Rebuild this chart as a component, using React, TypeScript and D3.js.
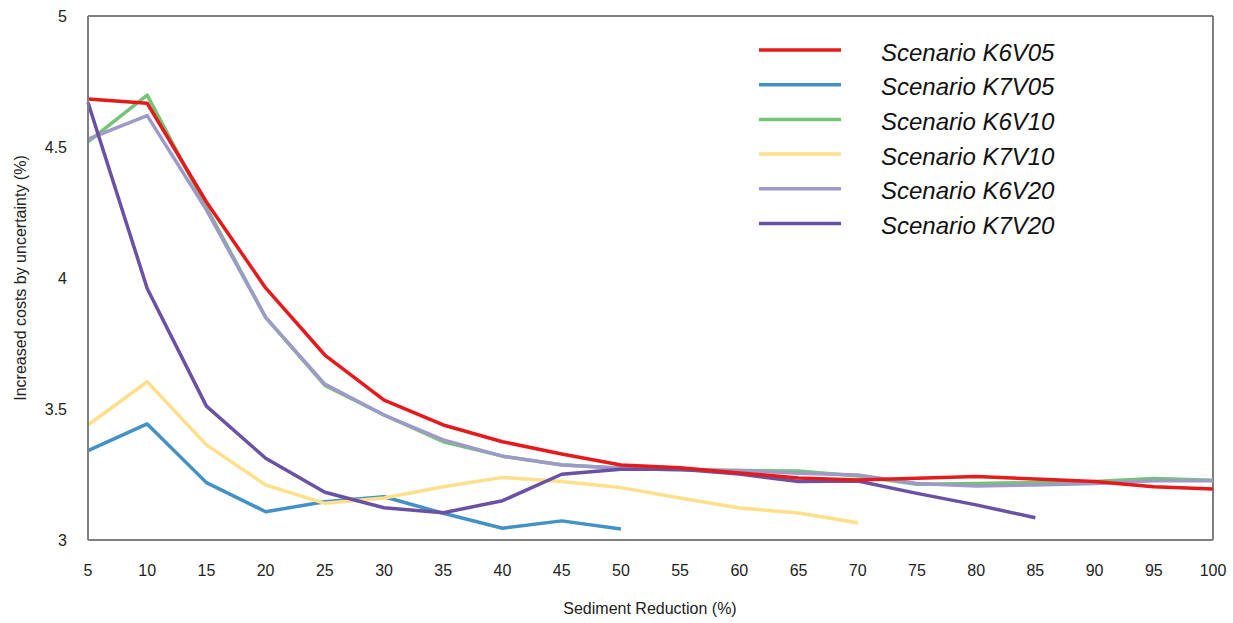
import React from 'react';
import * as d3 from 'd3';

// sediment reduction levels (%)
const reduction = [5, 10, 15, 20, 25, 30, 35, 40, 45, 50, 55, 60, 65, 70, 75, 80, 85, 90, 95, 100];

const k6v05 = [4.683, 4.667, 4.29, 3.962, 3.706, 3.534, 3.439, 3.375, 3.328, 3.286, 3.276, 3.256, 3.237, 3.229, 3.236, 3.242, 3.233, 3.223, 3.203, 3.195];
const k7v05 = [3.341, 3.443, 3.219, 3.108, 3.146, 3.165, 3.102, 3.045, 3.073, 3.042];
const k6v10 = [4.52, 4.698, 4.27, 3.85, 3.59, 3.477, 3.375, 3.32, 3.287, 3.274, 3.268, 3.265, 3.263, 3.244, 3.213, 3.216, 3.219, 3.223, 3.235, 3.228];
const k7v10 = [3.439, 3.604, 3.363, 3.21, 3.14, 3.16, 3.203, 3.239, 3.223, 3.2, 3.16, 3.122, 3.103, 3.066];
const k6v20 = [4.53, 4.62, 4.26, 3.85, 3.595, 3.477, 3.382, 3.32, 3.286, 3.274, 3.267, 3.265, 3.255, 3.248, 3.216, 3.206, 3.21, 3.216, 3.226, 3.226];
const k7v20 = [4.67, 3.96, 3.511, 3.312, 3.182, 3.123, 3.104, 3.15, 3.251, 3.27, 3.27, 3.252, 3.223, 3.225, 3.178, 3.134, 3.085];

const seriesNames = ['Scenario K6V05', 'Scenario K7V05', 'Scenario K6V10', 'Scenario K7V10', 'Scenario K6V20', 'Scenario K7V20'];
const seriesValues = [k6v05, k7v05, k6v10, k7v10, k6v20, k7v20];
const seriesColors = ['#e41a1c', '#4292c6', '#74c476', '#fedf8a', '#9e9ac8', '#6a51a3'];
// order the lines are painted in (last on top)
const drawOrder = [1, 3, 2, 4, 5, 0];

const yTicks = [3, 3.5, 4, 4.5, 5];

const width = 1233;
const height = 623;
const margin = { top: 16, right: 20, bottom: 83, left: 88 };
const font = 'Liberation Sans, Arial, sans-serif';

export default function App() {
  const x = d3.scaleLinear().domain([5, 100]).range([margin.left, width - margin.right]);
  const y = d3.scaleLinear().domain([3, 5]).range([height - margin.bottom, margin.top]);

  const line = d3
    .line<number>()
    .x((d, i) => x(reduction[i]))
    .y((d) => y(d));

  const x0 = x.range()[0];
  const x1 = x.range()[1];
  const y0 = y.range()[0];
  const y1 = y.range()[1];

  return (
    <div style={{ position: 'absolute', left: 0, top: 0 }}>
      <svg width={width} height={height} style={{ display: 'block', background: '#fff' }}>
        {/* frame */}
        <line x1={x0} x2={x1} y1={y1} y2={y1} stroke="#808080" strokeWidth={2} />
        <line x1={x1} x2={x1} y1={y1} y2={y0} stroke="#555" strokeWidth={1.5} />

        {drawOrder.map((k) => (
          <path
            key={seriesNames[k]}
            d={line(seriesValues[k]) || ''}
            fill="none"
            stroke={seriesColors[k]}
            strokeWidth={3.5}
            strokeLinejoin="round"
          />
        ))}

        <line x1={x0} x2={x0} y1={y1} y2={y0} stroke="#808080" strokeWidth={2} />
        <line x1={x0} x2={x1} y1={y0} y2={y0} stroke="#808080" strokeWidth={2} />

        {/* y ticks */}
        {yTicks.map((t) => (
          <text
            key={t}
            x={67}
            y={y(t) + 5.5}
            textAnchor="end"
            fontFamily={font}
            fontSize={16}
            fill="#222"
          >
            {t}
          </text>
        ))}

        {/* x ticks */}
        {reduction.map((t) => (
          <text
            key={t}
            x={x(t)}
            y={576}
            textAnchor="middle"
            fontFamily={font}
            fontSize={16}
            fill="#222"
          >
            {t}
          </text>
        ))}

        <text x={650} y={614} textAnchor="middle" fontFamily={font} fontSize={16} fill="#222">
          Sediment Reduction (%)
        </text>
        <text
          transform={`translate(25.5, ${(y0 + y1) / 2}) rotate(-90)`}
          textAnchor="middle"
          fontFamily={font}
          fontSize={16}
          fill="#222"
        >
          Increased costs by uncertainty (%)
        </text>

        {/* legend */}
        {seriesNames.map((name, i) => {
          const ly = 50 + i * 34.7;
          return (
            <g key={name}>
              <line x1={759} x2={841} y1={ly} y2={ly} stroke={seriesColors[i]} strokeWidth={3.5} />
              <text
                x={881}
                y={ly + 10.5}
                fontFamily={font}
                fontSize={24}
                fontStyle="italic"
                fill="#111"
              >
                {name}
              </text>
            </g>
          );
        })}
      </svg>
    </div>
  );
}
